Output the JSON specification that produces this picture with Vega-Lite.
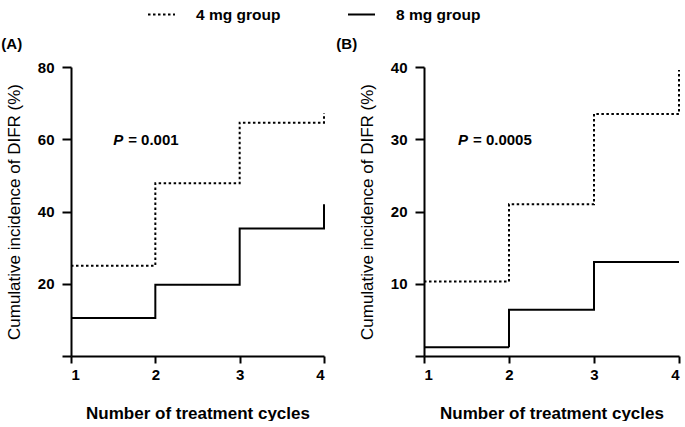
{
  "$schema": "https://vega.github.io/schema/vega-lite/v6.json",
  "background": "white",
  "padding": {"left": 1, "top": 0, "right": 5, "bottom": 0},
  "datasets": {
    "curves": [
      {"panel": "A", "group": "4 mg group", "cycle": 1, "pct": 25.0, "s": 1},
      {"panel": "A", "group": "4 mg group", "cycle": 2, "pct": 47.8, "s": 2},
      {"panel": "A", "group": "4 mg group", "cycle": 3, "pct": 64.6, "s": 3},
      {"panel": "A", "group": "4 mg group", "cycle": 4, "pct": 64.6, "s": 4},
      {"panel": "A", "group": "4 mg group", "cycle": 4, "pct": 67.2, "s": 5},
      {"panel": "A", "group": "8 mg group", "cycle": 1, "pct": 10.5, "s": 1},
      {"panel": "A", "group": "8 mg group", "cycle": 2, "pct": 19.7, "s": 2},
      {"panel": "A", "group": "8 mg group", "cycle": 3, "pct": 35.3, "s": 3},
      {"panel": "A", "group": "8 mg group", "cycle": 4, "pct": 35.3, "s": 4},
      {"panel": "A", "group": "8 mg group", "cycle": 4, "pct": 42.0, "s": 5},
      {"panel": "B", "group": "4 mg group", "cycle": 1, "pct": 10.3, "s": 1},
      {"panel": "B", "group": "4 mg group", "cycle": 2, "pct": 21.0, "s": 2},
      {"panel": "B", "group": "4 mg group", "cycle": 3, "pct": 33.5, "s": 3},
      {"panel": "B", "group": "4 mg group", "cycle": 4, "pct": 33.5, "s": 4},
      {"panel": "B", "group": "4 mg group", "cycle": 4, "pct": 39.6, "s": 5},
      {"panel": "B", "group": "8 mg group", "cycle": 1, "pct": 1.2, "s": 1},
      {"panel": "B", "group": "8 mg group", "cycle": 2, "pct": 6.4, "s": 2},
      {"panel": "B", "group": "8 mg group", "cycle": 3, "pct": 13.0, "s": 3},
      {"panel": "B", "group": "8 mg group", "cycle": 4, "pct": 13.0, "s": 4}
    ],
    "pvals": [
      {"panel": "A", "cycle": 1.5, "pct": 59.7, "p": "P", "rest": "= 0.001"},
      {"panel": "B", "cycle": 1.4, "pct": 29.9, "p": "P", "rest": "= 0.0005"}
    ]
  },
  "config": {
    "font": "Liberation Sans",
    "view": {"stroke": null},
    "axis": {
      "grid": false,
      "domainColor": "black",
      "domainWidth": 2,
      "tickColor": "black",
      "tickWidth": 2,
      "labelFont": "Liberation Sans",
      "labelFontWeight": "bold",
      "labelFontSize": 15,
      "labelColor": "black",
      "titleFont": "Liberation Sans",
      "titleFontWeight": "bold",
      "titleFontSize": 17,
      "titleColor": "black"
    },
    "axisY": {"titleFontWeight": "normal"},
    "legend": {
      "labelFont": "Liberation Sans",
      "labelFontWeight": "bold",
      "labelFontSize": 15.5,
      "labelColor": "black"
    },
    "title": {"font": "Liberation Sans", "fontSize": 15, "fontWeight": "bold", "color": "black"}
  },
  "spacing": 8,
  "resolve": {"scale": {"strokeDash": "shared"}},
  "hconcat": [
    {
      "width": 253,
      "height": 289,
      "title": {"text": "(A)", "anchor": "start", "dx": -4, "offset": 8},
      "layer": [
        {
          "data": {"name": "curves"},
          "transform": [{"filter": "datum.panel == 'A'"}],
          "mark": {"type": "line", "interpolate": "step-after", "strokeWidth": 2, "color": "black"},
          "encoding": {
            "x": {"field": "cycle", "type": "quantitative", "scale": {"domain": [1, 4]},
                  "axis": {"values": [1, 2, 3, 4], "format": "d", "tickSize": 7, "labelPadding": 4, "title": "Number of treatment cycles", "titlePadding": 23}},
            "y": {"field": "pct", "type": "quantitative", "scale": {"domain": [0, 80]},
                  "axis": {"values": [0, 10, 20, 30, 40, 50, 60, 70, 80],
                           "labelExpr": "datum.value % 20 == 0 && datum.value > 0 ? datum.label : ''",
                           "tickSize": {"condition": {"test": "datum.value % 20 == 0", "value": 9}, "value": 4},
                           "labelPadding": 8,
                           "title": "Cumulative incidence of DIFR (%)", "titlePadding": 14}},
            "strokeDash": {"field": "group", "type": "nominal",
                           "scale": {"domain": ["4 mg group", "8 mg group"], "range": [[2.5, 2.5], [1, 0]]},
                           "legend": {"orient": "none", "direction": "horizontal", "legendX": 76, "legendY": -67,
                                      "title": null, "symbolType": "stroke", "symbolSize": 729, "symbolStrokeWidth": 2,
                                      "symbolStrokeColor": "black", "columnPadding": 63, "labelOffset": 20}},
            "order": {"field": "s", "type": "quantitative"}
          }
        },
        {
          "data": {"name": "pvals"},
          "transform": [{"filter": "datum.panel == 'A'"}],
          "mark": {"type": "text", "align": "left", "baseline": "middle", "fontSize": 15, "fontWeight": "bold", "fontStyle": "italic", "font": "Liberation Sans"},
          "encoding": {
            "x": {"field": "cycle", "type": "quantitative"},
            "y": {"field": "pct", "type": "quantitative"},
            "text": {"field": "p"}
          }
        },
        {
          "data": {"name": "pvals"},
          "transform": [{"filter": "datum.panel == 'A'"}],
          "mark": {"type": "text", "align": "left", "baseline": "middle", "dx": 15, "fontSize": 15, "fontWeight": "bold", "font": "Liberation Sans"},
          "encoding": {
            "x": {"field": "cycle", "type": "quantitative"},
            "y": {"field": "pct", "type": "quantitative"},
            "text": {"field": "rest"}
          }
        }
      ]
    },
    {
      "width": 255,
      "height": 289,
      "title": {"text": "(B)", "anchor": "start", "dx": -22, "offset": 8},
      "layer": [
        {
          "data": {"name": "curves"},
          "transform": [{"filter": "datum.panel == 'B'"}],
          "mark": {"type": "line", "interpolate": "step-after", "strokeWidth": 2, "color": "black"},
          "encoding": {
            "x": {"field": "cycle", "type": "quantitative", "scale": {"domain": [1, 4]},
                  "axis": {"values": [1, 2, 3, 4], "format": "d", "tickSize": 7, "labelPadding": 4, "title": "Number of treatment cycles", "titlePadding": 23}},
            "y": {"field": "pct", "type": "quantitative", "scale": {"domain": [0, 40]},
                  "axis": {"values": [0, 5, 10, 15, 20, 25, 30, 35, 40],
                           "labelExpr": "datum.value % 10 == 0 && datum.value > 0 ? datum.label : ''",
                           "tickSize": {"condition": {"test": "datum.value % 10 == 0", "value": 9}, "value": 4},
                           "labelPadding": 8,
                           "title": "Cumulative incidence of DIFR (%)", "titlePadding": 14}},
            "strokeDash": {"field": "group", "type": "nominal",
                           "scale": {"domain": ["4 mg group", "8 mg group"], "range": [[2.5, 2.5], [1, 0]]},
                           "legend": {"orient": "none", "direction": "horizontal", "legendX": 76, "legendY": -67,
                                      "title": null, "symbolType": "stroke", "symbolSize": 729, "symbolStrokeWidth": 2,
                                      "symbolStrokeColor": "black", "columnPadding": 63, "labelOffset": 20}},
            "order": {"field": "s", "type": "quantitative"}
          }
        },
        {
          "data": {"name": "pvals"},
          "transform": [{"filter": "datum.panel == 'B'"}],
          "mark": {"type": "text", "align": "left", "baseline": "middle", "fontSize": 15, "fontWeight": "bold", "fontStyle": "italic", "font": "Liberation Sans"},
          "encoding": {
            "x": {"field": "cycle", "type": "quantitative"},
            "y": {"field": "pct", "type": "quantitative"},
            "text": {"field": "p"}
          }
        },
        {
          "data": {"name": "pvals"},
          "transform": [{"filter": "datum.panel == 'B'"}],
          "mark": {"type": "text", "align": "left", "baseline": "middle", "dx": 15, "fontSize": 15, "fontWeight": "bold", "font": "Liberation Sans"},
          "encoding": {
            "x": {"field": "cycle", "type": "quantitative"},
            "y": {"field": "pct", "type": "quantitative"},
            "text": {"field": "rest"}
          }
        }
      ]
    }
  ]
}
